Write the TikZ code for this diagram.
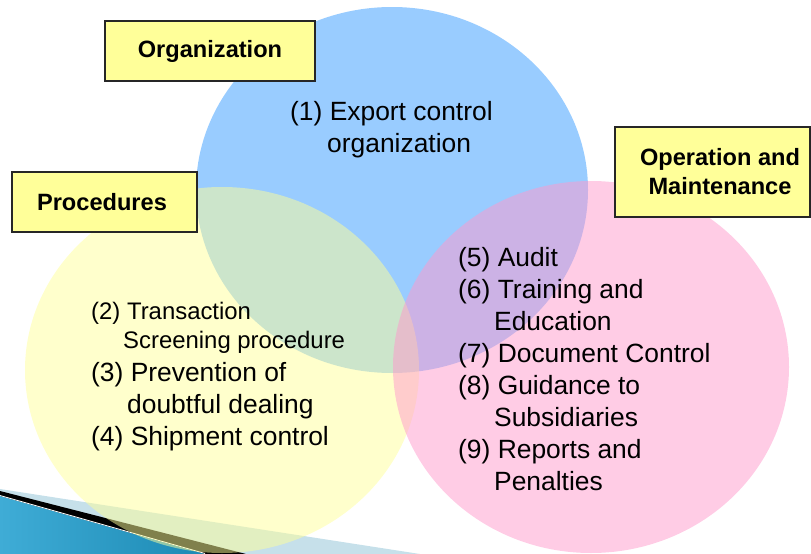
\documentclass[tikz,border=0pt]{standalone}
\usepackage{fontspec}
\setmainfont{Liberation Sans}
\definecolor{blueC}{HTML}{99CCFF}
\definecolor{yellowC}{HTML}{FFFF99}
\definecolor{pinkC}{HTML}{FF99CC}
\definecolor{boxC}{HTML}{FFFF99}
\definecolor{bandC}{HTML}{C6E0EA}
\definecolor{tealL}{HTML}{3FACD6}
\definecolor{tealD}{HTML}{1C8AB4}
\tikzset{
  lbl/.style={draw=black!85, line width=1.2pt, fill=boxC, inner sep=0pt},
  lbltext/.style={font=\fontsize{23.6pt}{29pt}\selectfont\bfseries, inner sep=0pt, align=center},
  big/.style={font=\fontsize{26.4pt}{32pt}\selectfont, anchor=base west, inner sep=0pt},
  small/.style={font=\fontsize{23.9pt}{29pt}\selectfont, anchor=base west, inner sep=0pt},
}
\begin{document}
\begin{tikzpicture}[x=1pt,y=-1pt]
\useasboundingbox (0,0) rectangle (811,554);
\begin{scope}
\clip (0,0) rectangle (811,554);
% bottom-left decoration
\fill[bandC] (0,489) -- (420,554) -- (0,554) -- cycle;
\fill[black] (0,491) -- (246,554) -- (0,554) -- cycle;
\shade[left color=tealL, right color=tealD] (0,496) -- (205,554) -- (0,554) -- cycle;
\draw[white, line width=0.8pt] (0,495.5) -- (205,553.5);
% circles
\fill[blueC] (392,190) ellipse [x radius=196pt, y radius=183pt];
\fill[yellowC, opacity=0.5] (222,370) ellipse [x radius=197pt, y radius=183pt];
\fill[pinkC, opacity=0.5] (591,367) ellipse [x radius=198pt, y radius=186pt];
\end{scope}
% label boxes
\node[lbl, minimum width=210pt, minimum height=60pt] (org) at (210,51) {};
\node[lbltext] (orgt) at (210,51) {Organization};
\node[lbl, minimum width=185pt, minimum height=60pt] (proc) at (104.5,202) {};
\node[lbltext] (proct) at (102,202) {Procedures};
\node[lbl, minimum width=195pt, minimum height=90pt] (om) at (712.5,172) {};
\node[lbltext] (omt) at (720,172) {Operation and\\Maintenance};
% circle texts
\node[big] (t1a) at (290,120) {(1) Export control};
\node[big] (t1b) at (327,152) {organization};
\node[small] (t2a) at (91,319.5) {(2) Transaction};
\node[small] (t2b) at (123,348.5) {Screening procedure};
\node[big] (t3a) at (91,381) {(3) Prevention of};
\node[big] (t3b) at (127,413) {doubtful dealing};
\node[big] (t4a) at (91,445) {(4) Shipment control};
\node[big] (t5a) at (458,266) {(5) Audit};
\node[big] (t6a) at (458,298) {(6) Training and};
\node[big] (t6b) at (494,330) {Education};
\node[big] (t7a) at (458,362) {(7) Document Control};
\node[big] (t8a) at (458,394) {(8) Guidance to};
\node[big] (t8b) at (494,426) {Subsidiaries};
\node[big] (t9a) at (458,458) {(9) Reports and};
\node[big] (t9b) at (494,490) {Penalties};
\end{tikzpicture}
\end{document}
